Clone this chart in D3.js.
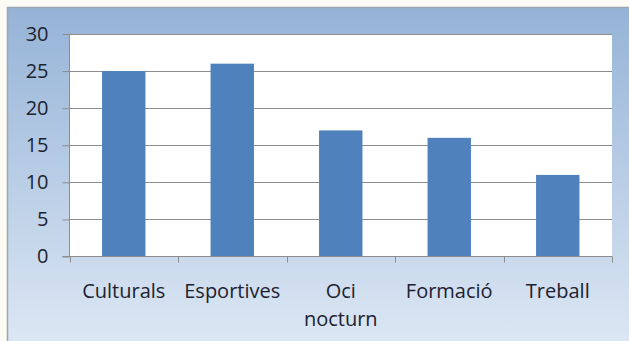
<!DOCTYPE html>
<html><head><meta charset="utf-8">
<script src="https://cdn.jsdelivr.net/npm/d3@7"></script>
<style>html,body{margin:0;padding:0;background:#fbfaf3;}svg{display:block;}</style>
</head><body>
<svg id="c" width="629" height="341"></svg>
<script>
const categories = ["Culturals", "Esportives", "Oci nocturn", "Formació", "Treball"];
const labelLines = [["Culturals"], ["Esportives"], ["Oci", "nocturn"], ["Formació"], ["Treball"]];
const values = [25, 26, 17, 16, 11];
const yTicks = [0, 5, 10, 15, 20, 25, 30];

const svg = d3.select("#c");
const defs = svg.append("defs");
const g = defs.append("linearGradient").attr("id", "bg").attr("x1", 0).attr("y1", 0).attr("x2", 0).attr("y2", 1);
g.append("stop").attr("offset", "0").attr("stop-color", "#95b3d7");
g.append("stop").attr("offset", "1").attr("stop-color", "#dfe9f5");

svg.append("rect").attr("x", 7.5).attr("y", 7.5).attr("width", 640).attr("height", 350)
  .attr("fill", "url(#bg)").attr("stroke", "#9aa6b4").attr("stroke-width", 1.5);

const L = 69.5, R = 612, T = 34, B = 256.5;
const x = d3.scaleBand().domain(categories).range([L, R]).paddingInner(0.6).paddingOuter(0.3);
const xb = d3.scaleBand().domain(categories).range([L, R]);
const y = d3.scaleLinear().domain([0, 30]).range([B, T]);

svg.append("rect").attr("x", L).attr("y", T).attr("width", R - L).attr("height", B - T).attr("fill", "#fff");

// gridlines
svg.append("g").selectAll("line").data(yTicks.filter(d => d > 0)).join("line")
  .attr("x1", L).attr("x2", R).attr("y1", d => Math.round(y(d)) + 0.5).attr("y2", d => Math.round(y(d)) + 0.5)
  .attr("stroke", "#8c8c8c").attr("stroke-width", 1);

// bars
svg.append("g").selectAll("rect").data(values).join("rect")
  .attr("x", (d, i) => x(categories[i]))
  .attr("width", x.bandwidth())
  .attr("y", d => y(d)).attr("height", d => B - y(d))
  .attr("fill", "#4f81bd");

// y axis
const ya = svg.append("g").attr("transform", `translate(${L},0)`)
  .call(d3.axisLeft(y).tickValues(yTicks).tickSize(7).tickPadding(14));
ya.select(".domain").attr("stroke", "#8c8c8c").attr("d", `M0,${T}V${B}`);
ya.selectAll(".tick line").attr("stroke", "#8c8c8c");
ya.selectAll(".tick text").attr("font-family", "Open Sans, sans-serif").attr("font-size", 20).attr("fill", "#1c2230");

// x axis
const xa = svg.append("g").attr("transform", `translate(0,${B})`);
xa.append("line").attr("x1", L - 7).attr("x2", R).attr("y1", 0).attr("y2", 0).attr("stroke", "#8c8c8c");
const bounds = categories.map(c => xb(c)).concat([R]);
xa.selectAll("line.t").data(bounds).join("line").attr("class", "t")
  .attr("x1", d => Math.round(d) + 0.5).attr("x2", d => Math.round(d) + 0.5).attr("y1", 0).attr("y2", 6)
  .attr("stroke", "#8c8c8c");
const lbl = xa.selectAll("text").data(categories).join("text")
  .attr("x", d => xb(d) + xb.bandwidth() / 2)
  .attr("y", 41)
  .attr("text-anchor", "middle")
  .attr("font-family", "Open Sans, sans-serif").attr("font-size", 20).attr("fill", "#1c2230");
lbl.selectAll("tspan").data((d, i) => labelLines[i]).join("tspan")
  .attr("x", function () { return this.parentNode.getAttribute("x"); })
  .attr("dy", (d, i) => i === 0 ? 0 : 28)
  .text(d => d);
</script>
</body></html>
